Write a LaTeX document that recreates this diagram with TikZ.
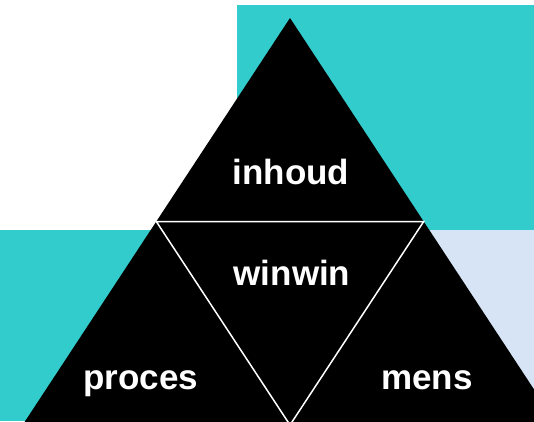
\documentclass[tikz,border=0pt]{standalone}
\usepackage{fontspec}
\setmainfont{Liberation Sans}
\usetikzlibrary{positioning}
\definecolor{tealblock}{RGB}{51,204,204}
\definecolor{paleblue}{RGB}{214,228,245}
\tikzset{word/.style={text=white, font=\fontsize{35}{42}\selectfont\bfseries, inner sep=0pt, anchor=base}}

\begin{document}
\begin{tikzpicture}[x=1pt, y=-1pt]
        \useasboundingbox (0,0) rectangle (534,421);
        \clip (0,0) rectangle (534,421);

        % Coloured blocks behind
        \fill[tealblock] (237,5) rectangle (534,230);
        \fill[tealblock] (0,230) rectangle (290,421);
        \fill[paleblue] (290,230) rectangle (534,421);

        % Big triangle
        \coordinate (top) at (290,18);
        \coordinate (bl) at (22.6,425);
        \coordinate (br) at (557.4,425);
        \fill[black] (top) -- (bl) -- (br) -- cycle;

        % Inner triangle
        \coordinate (ml) at (156.3,221.5);
        \coordinate (mr) at (423.7,221.5);
        \coordinate (mb) at (290,425);
        \draw[white, line width=1.5pt, line join=miter] (ml) -- (mr) -- (mb) -- cycle;

        % Words
        \node[word] (inhoud) at (291,184) {inhoud};
        \node[word] (winwin) at (292,285) {winwin};
        \node[word] (proces) at (141,389) {proces};
        \node[word] (mens) at (427,389) {mens};

    \end{tikzpicture}
\end{document}
